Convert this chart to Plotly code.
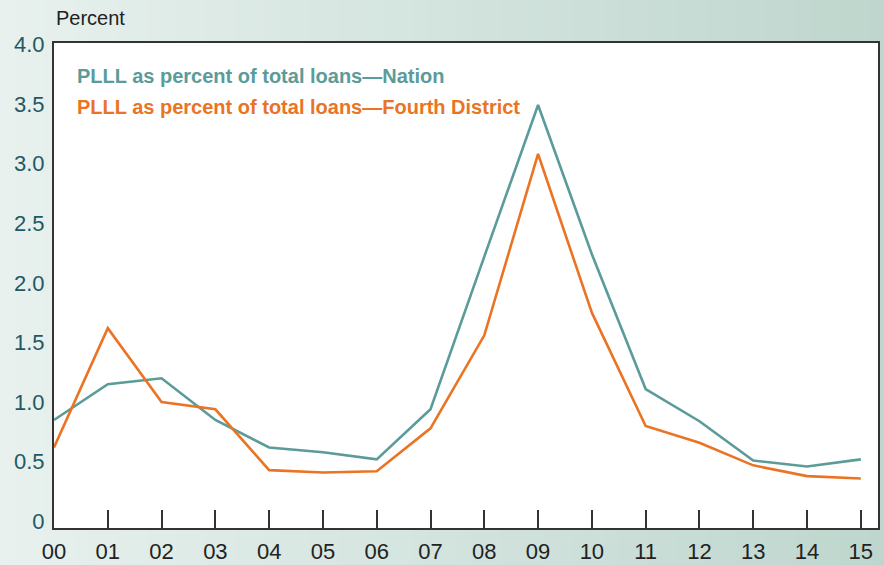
import plotly.graph_objects as go

years = list(range(16))
year_labels = ["00", "01", "02", "03", "04", "05", "06", "07", "08", "09",
               "10", "11", "12", "13", "14", "15"]
nation = [0.85, 1.15, 1.20, 0.85, 0.62, 0.58, 0.52, 0.94, 2.22, 3.49,
          2.24, 1.11, 0.84, 0.51, 0.46, 0.52]
fourth = [0.62, 1.62, 1.00, 0.94, 0.43, 0.41, 0.42, 0.78, 1.56, 3.08,
          1.75, 0.80, 0.66, 0.47, 0.38, 0.36]
y_ticks = [0, 0.5, 1.0, 1.5, 2.0, 2.5, 3.0, 3.5, 4.0]
y_labels = ["0", "0.5", "1.0", "1.5", "2.0", "2.5", "3.0", "3.5", "4.0"]

TEAL = "#5b9b99"
ORANGE = "#ea7424"
FONT = "Liberation Sans, Arial, sans-serif"

fig = go.Figure()
fig.add_trace(go.Scatter(x=years, y=nation, mode="lines",
                         line=dict(color=TEAL, width=2.6), showlegend=False))
fig.add_trace(go.Scatter(x=years, y=fourth, mode="lines",
                         line=dict(color=ORANGE, width=2.6), showlegend=False))

# background gradient (horizontal) built from strips
shapes = []
n = 60
c0 = (232, 241, 238)
c1 = (190, 214, 205)
W, L, R = 884.0, 54.0, 878.0
pw = R - L
ph = 528.0 - 43.0
for i in range(n):
    t = (i + 0.5) / n
    col = tuple(int(round(c0[k] + (c1[k] - c0[k]) * t)) for k in range(3))
    px0 = W * i / n
    px1 = W * (i + 1) / n + 1
    shapes.append(dict(type="rect", xref="paper", yref="paper",
                       x0=(px0 - L) / pw, x1=(px1 - L) / pw, y0=-0.2, y1=1.2,
                       fillcolor="rgb(%d,%d,%d)" % col, line=dict(width=0),
                       layer="below"))
shapes.append(dict(type="rect", xref="paper", yref="paper", x0=0, x1=1, y0=0, y1=1,
                   fillcolor="white", line=dict(width=0), layer="below"))

fig.update_layout(
    width=884, height=565,
    margin=dict(l=54, r=6, t=43, b=37, autoexpand=False),
    paper_bgcolor="#e8f1ee",
    plot_bgcolor="white",
    shapes=shapes,
    xaxis=dict(range=[0, 15.32], tickvals=years, ticktext=year_labels,
               ticks="inside", ticklen=18, tickwidth=1.5, tickcolor="#333333",
               showgrid=False, zeroline=False, showline=True, linecolor="#333333",
               linewidth=2, mirror=True, automargin=False, ticklabelstandoff=3,
               tickfont=dict(family=FONT, size=22, color="#222222")),
    yaxis=dict(range=[-0.055, 4.01], tickvals=y_ticks, ticktext=y_labels,
               ticks="", showgrid=False, zeroline=False, showline=True,
               linecolor="#333333", linewidth=2, mirror=True, automargin=False,
               ticklabelstandoff=3,
               tickfont=dict(family=FONT, size=22, color="#1f5964")),
    annotations=[
        dict(text="Percent", xref="paper", yref="paper", x=0.0, y=1.0,
             xshift=0, yshift=25, xanchor="left", yanchor="middle", showarrow=False,
             font=dict(family=FONT, size=20, color="#222222")),
        dict(text="<b>PLLL as percent of total loans\u2014Nation</b>", xref="paper", yref="paper",
             x=(75 - L) / pw, y=(528 - 76) / ph, xanchor="left", yanchor="middle",
             showarrow=False, font=dict(family=FONT, size=20, color=TEAL)),
        dict(text="<b>PLLL as percent of total loans\u2014Fourth District</b>", xref="paper", yref="paper",
             x=(75 - L) / pw, y=(528 - 107) / ph, xanchor="left", yanchor="middle",
             showarrow=False, font=dict(family=FONT, size=20, color=ORANGE)),
    ],
)

fig.write_html("out.html", config={"displayModeBar": False},
               post_script="document.body.style.margin='0';")
